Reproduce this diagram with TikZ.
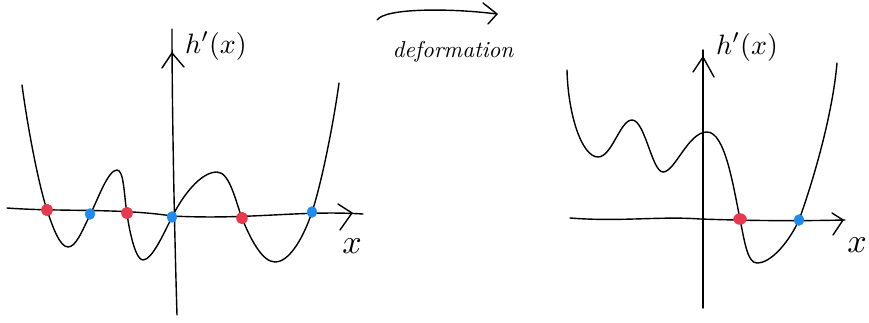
\documentclass[tikz,border=0pt]{standalone}
\usepackage{graphicx}
\usetikzlibrary{shapes.geometric}
\definecolor{dotred}{RGB}{232,58,78}
\definecolor{dotblue}{RGB}{30,140,238}
\begin{document}
\begin{tikzpicture}[x=1pt,y=-1pt,
  stroke/.style={line width=1.4pt,line cap=round,line join=round},
  rootred/.style={ellipse,inner sep=0pt,minimum width=11pt,minimum height=12pt,fill=dotred,draw=dotred},
  rootblue/.style={ellipse,inner sep=0pt,minimum width=10pt,minimum height=11pt,fill=dotblue,draw=dotblue},
  lbl/.style={inner sep=0pt}]
\useasboundingbox (0,0) rectangle (869,323);
% ---------------- left plot ----------------
\coordinate (LyB) at (177,315);
\coordinate (LyT) at (172,29);
\coordinate (LyTip) at (172,53);
\coordinate (LxL) at (7,208);
\coordinate (LxR) at (363,214);
\coordinate (LxTip) at (352,213);
\draw[stroke] (LyB) .. controls (175,250) and (172,120) .. (LyT);
\draw[stroke] (162,68) -- (LyTip) -- (184,67);
\draw[stroke] (LxL) .. controls (60,212) and (120,208) .. (172,216) .. controls (250,220) and (300,210) .. (LxR);
\draw[stroke] (338,204) -- (LxTip) -- (340,230);
\draw[stroke] (22,85) .. controls (28,130) and (39,186) .. (47,210)
  .. controls (53,228) and (60,247) .. (68,247)
  .. controls (76,247) and (82,231) .. (90,215)
  .. controls (98,199) and (108,170) .. (117,170)
  .. controls (124,170) and (124,195) .. (127,214)
  .. controls (130,235) and (136,260) .. (143,260)
  .. controls (152,260) and (164,233) .. (172,217)
  .. controls (182,197) and (200,172) .. (217,172)
  .. controls (230,172) and (236,203) .. (242,218)
  .. controls (250,238) and (262,262) .. (275,262)
  .. controls (290,262) and (304,236) .. (312,212)
  .. controls (322,182) and (334,120) .. (339,83);
\node[rootred]  (r1) at (47,210) {};
\node[rootblue] (b1) at (90,214) {};
\node[rootred]  (r2) at (127,213) {};
\node[rootblue] (b2) at (172,217) {};
\node[rootred]  (r3) at (242,218) {};
\node[rootblue] (b3) at (312,212) {};
\node[lbl] (lh) at (216,46) {\scalebox{2.8}{$h'(x)$}};
\node[lbl] (lx) at (352,246) {\scalebox{3.4}{$x$}};
% ---------------- deformation arrow ----------------
\coordinate (dS) at (377,20);
\coordinate (dE) at (497,14);
\draw[stroke] (dS) .. controls (385,8) and (450,8) .. (dE);
\draw[stroke] (483,3) -- (dE) -- (488,24);
\node[lbl] (def) at (453,52) {\scalebox{2.3}{\itshape deformation}};
% ---------------- right plot ----------------
\coordinate (RyB) at (703,308);
\coordinate (RyT) at (703,50);
\coordinate (RyTip) at (703,57);
\coordinate (RxL) at (570,218);
\coordinate (RxR) at (845,220);
\coordinate (RxTip) at (843,220);
\draw[stroke] (RyB) -- (RyT);
\draw[stroke] (693,72) -- (RyTip) -- (714,77);
\draw[stroke] (RxL) .. controls (620,222) and (660,216) .. (700,219) .. controls (760,221) and (800,221) .. (RxR);
\draw[stroke] (832,213) -- (RxTip) -- (833,235);
\draw[stroke] (567,70) .. controls (568,115) and (582,157) .. (598,157)
  .. controls (612,157) and (620,120) .. (632,120)
  .. controls (645,120) and (652,172) .. (663,172)
  .. controls (675,172) and (688,132) .. (707,132)
  .. controls (725,132) and (733,185) .. (740,219)
  .. controls (745,245) and (748,263) .. (757,263)
  .. controls (772,263) and (790,240) .. (799,220)
  .. controls (810,190) and (832,120) .. (837,63);
\node[rootred,minimum width=13pt,minimum height=11pt] (r4) at (740,219) {};
\node[rootblue] (b4) at (799,220) {};
\node[lbl] (rh) at (747,47) {\scalebox{2.8}{$h'(x)$}};
\node[lbl] (rx) at (857,245) {\scalebox{3.4}{$x$}};
\end{tikzpicture}
\end{document}
